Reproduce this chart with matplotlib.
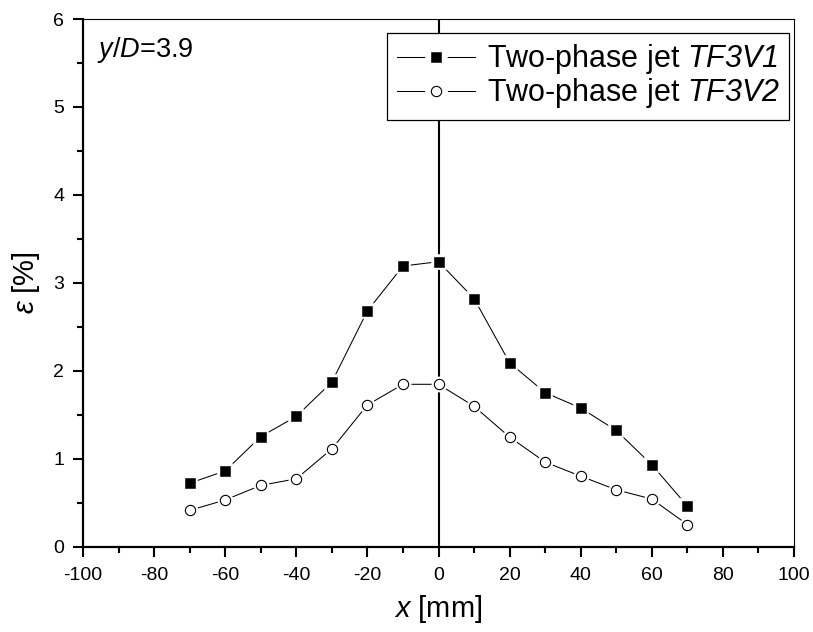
import matplotlib
matplotlib.use("Agg")
import matplotlib.pyplot as plt
from matplotlib.ticker import MultipleLocator
from matplotlib.legend_handler import HandlerTuple
from matplotlib.lines import Line2D

plt.rcParams['font.family'] = ['Liberation Sans', 'DejaVu Sans']
plt.rcParams['axes.unicode_minus'] = False
plt.rcParams['mathtext.fontset'] = 'custom'
plt.rcParams['mathtext.it'] = 'Liberation Sans:italic'
plt.rcParams['mathtext.rm'] = 'Liberation Sans'
# use the "bf" slot as an italic font so that digits are italic too
plt.rcParams['mathtext.bf'] = 'Liberation Sans:italic'

x = [-70, -60, -50, -40, -30, -20, -10, 0, 10, 20, 30, 40, 50, 60, 70]
tf3v1 = [0.72, 0.86, 1.25, 1.48, 1.87, 2.68, 3.19, 3.24, 2.82, 2.09, 1.75, 1.575, 1.32, 0.93, 0.46]
tf3v2 = [0.41, 0.53, 0.695, 0.77, 1.11, 1.61, 1.845, 1.845, 1.595, 1.245, 0.96, 0.80, 0.645, 0.54, 0.25]
labels = ["Two-phase jet $\\mathbf{TF3V1}$", "Two-phase jet $\\mathbf{TF3V2}$"]

fig = plt.figure(figsize=(8.13, 6.32), dpi=100)
ax = fig.add_axes([83/813, (632-546.5)/632, 711/813, 527.5/632])

handles = []
for ys, mk, fc, ms in [(tf3v1, 's', 'black', 7.0), (tf3v2, 'o', 'white', 7.4)]:
    mew = 0.8 if fc == 'white' else 0.4
    ax.plot(x, ys, '-', color='black', lw=0.75, zorder=3)
    ax.plot(x, ys, ls='none', marker=mk, ms=ms, mfc='white', mec='white',
            mew=4.0, zorder=4)
    ax.plot(x, ys, ls='none', marker=mk, ms=ms, mfc=fc, mec='black',
            mew=mew, zorder=5)
    # legend proxies (line broken around the marker)
    p_ln = Line2D([], [], color='black', lw=0.75)
    p_halo = Line2D([], [], ls='none', marker=mk, ms=ms, mfc='white', mec='white', mew=9)
    p_mk = Line2D([], [], ls='none', marker=mk, ms=ms, mfc=fc, mec='black', mew=mew)
    handles.append((p_ln, p_halo, p_mk))

ax.axvline(0, color='black', lw=1.5, zorder=2)

ax.set_xlim(-100, 100)
ax.set_ylim(0, 6)
ax.xaxis.set_major_locator(MultipleLocator(20))
ax.xaxis.set_minor_locator(MultipleLocator(10))
ax.yaxis.set_major_locator(MultipleLocator(1))
ax.yaxis.set_minor_locator(MultipleLocator(0.5))
ax.tick_params(which='major', direction='out', length=7.5, width=1.5, labelsize=14, pad=6)
ax.tick_params(which='minor', direction='out', length=4.5, width=1.5)
ax.tick_params(axis='x', which='major', pad=7)

for s in ['left', 'bottom']:
    ax.spines[s].set_linewidth(1.6)
for s in ['top', 'right']:
    ax.spines[s].set_linewidth(0.8)

ax.set_xlabel("$\\it{x}$ [mm]", fontsize=21, labelpad=7)
ax.set_ylabel("$\\it{\\varepsilon}$ [%]", fontsize=21, labelpad=8)

ax.text(-96, 5.57, "$\\it{y/D}$=3.9", fontsize=19.5, ha='left', va='baseline')

leg = ax.legend(handles, labels, loc='upper right', bbox_to_anchor=(0.993, 0.973),
                fontsize=22, frameon=True, fancybox=False, edgecolor='black',
                framealpha=1, handlelength=2.55, handletextpad=0.4, borderpad=0.3,
                labelspacing=0.0, borderaxespad=0,
                handler_map={tuple: HandlerTuple(ndivide=1, pad=0)})
leg.get_frame().set_linewidth(0.9)

fig.savefig("out.png", dpi=100)
